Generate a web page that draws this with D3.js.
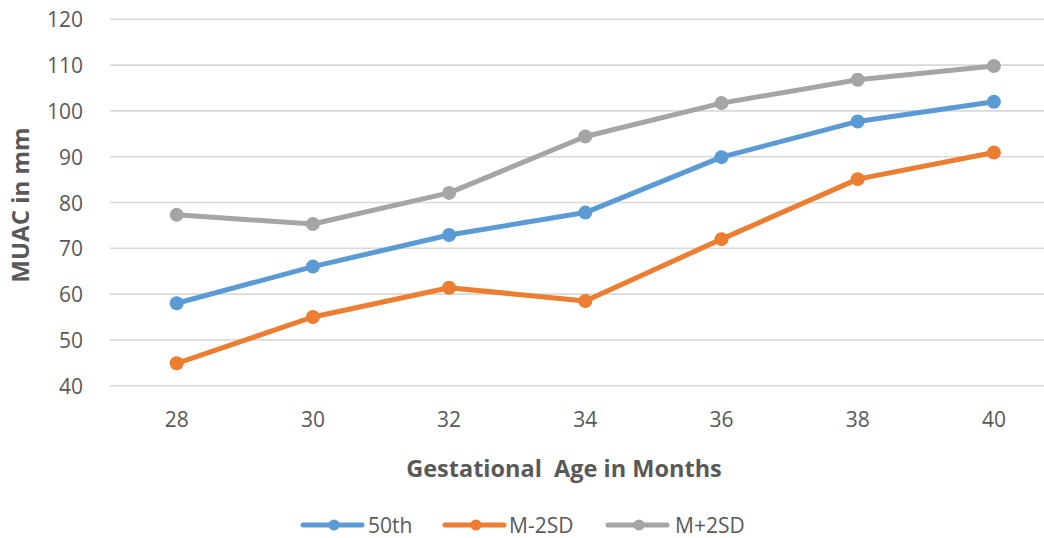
<!DOCTYPE html>
<html>
<head>
<meta charset="utf-8">
<script src="https://cdn.jsdelivr.net/npm/d3@7"></script>
<style>
  html, body { margin: 0; padding: 0; background: #ffffff; }
  svg { display: block; }
  text { font-family: "Open Sans", "Noto Sans", sans-serif; fill: #595959; }
</style>
</head>
<body>
<svg id="chart" width="1044" height="538"></svg>
<script>
// Gestational age categories (months)
const ages = ["28", "30", "32", "34", "36", "38", "40"];

// MUAC values in mm for each series
const p50    = [58.0, 66.0, 72.9, 77.8, 89.9, 97.7, 102.0];
const minus2 = [44.9, 55.0, 61.4, 58.5, 72.0, 85.1, 90.9];
const plus2  = [77.3, 75.3, 82.1, 94.4, 101.7, 106.8, 109.8];

const yTicks = [40, 50, 60, 70, 80, 90, 100, 110, 120];

const seriesNames  = ["50th", "M-2SD", "M+2SD"];
const seriesColors = ["#5B9BD5", "#ED7D31", "#A5A5A5"];
const seriesValues = [p50, minus2, plus2];

const svg = d3.select("#chart");
const W = 1044, H = 538;

const plotLeft = 110, plotRight = W;
const x = d3.scaleBand().domain(ages).range([108.6, 108.6 + 7 * 136.2]).padding(0);
const cx = d => x(d) + x.bandwidth() / 2;
const y = d3.scaleLinear().domain([40, 120]).range([385.7, 19.3]);

// horizontal gridlines
svg.append("g")
  .selectAll("line")
  .data(yTicks)
  .join("line")
  .attr("x1", plotLeft).attr("x2", plotRight)
  .attr("y1", d => y(d)).attr("y2", d => y(d))
  .attr("stroke", "#D9D9D9")
  .attr("stroke-width", 1.6);

// y axis labels
const yAxis = d3.axisLeft(y).tickValues(yTicks).tickSize(0).tickPadding(0);
const gy = svg.append("g").attr("transform", "translate(83,0)").call(yAxis);
gy.select(".domain").remove();
gy.selectAll("text")
  .attr("font-size", 21)
  .attr("font-family", "\"Open Sans\", sans-serif")
  .attr("fill", "#595959")
  .attr("dy", "0.36em");

// x axis labels
const xAxis = d3.axisBottom(x).tickSize(0).tickPadding(0);
const gx = svg.append("g").attr("transform", "translate(0,427)").call(xAxis);
gx.select(".domain").remove();
gx.selectAll("text")
  .attr("font-size", 21)
  .attr("font-family", "\"Open Sans\", sans-serif")
  .attr("fill", "#595959")
  .attr("y", 0)
  .attr("dy", 0);

// axis titles
svg.append("text")
  .attr("x", 564).attr("y", 477)
  .attr("text-anchor", "middle")
  .attr("font-size", 23.5)
  .attr("font-weight", "bold")
  .attr("xml:space", "preserve")
  .style("white-space", "pre")
  .text("Gestational  Age in Months");

svg.append("text")
  .attr("transform", "translate(29,205) rotate(-90)")
  .attr("text-anchor", "middle")
  .attr("font-size", 24)
  .attr("font-weight", "bold")
  .text("MUAC in mm");

// series lines and markers
const line = d3.line().x((d, i) => cx(ages[i])).y(d => y(d));

seriesValues.forEach((vals, s) => {
  const g = svg.append("g");
  g.append("path")
    .datum(vals)
    .attr("d", line)
    .attr("fill", "none")
    .attr("stroke", seriesColors[s])
    .attr("stroke-width", 5)
    .attr("stroke-linejoin", "round")
    .attr("stroke-linecap", "round");
  g.selectAll("circle")
    .data(vals)
    .join("circle")
    .attr("cx", (d, i) => cx(ages[i]))
    .attr("cy", d => y(d))
    .attr("r", 7)
    .attr("fill", seriesColors[s]);
});

// legend
const legendItems = [
  { x0: 303, tx: 368 },
  { x0: 445, tx: 509 },
  { x0: 608, tx: 675 }
];
const ly = 525;
const lg = svg.append("g");
seriesNames.forEach((name, s) => {
  const it = legendItems[s];
  lg.append("line")
    .attr("x1", it.x0).attr("x2", it.x0 + 59)
    .attr("y1", ly).attr("y2", ly)
    .attr("stroke", seriesColors[s])
    .attr("stroke-width", 5)
    .attr("stroke-linecap", "round");
  lg.append("circle")
    .attr("cx", it.x0 + 31).attr("cy", ly)
    .attr("r", 5.5)
    .attr("fill", seriesColors[s]);
  lg.append("text")
    .attr("x", it.tx).attr("y", ly)
    .attr("dy", "0.36em")
    .attr("font-size", 21)
    .text(name);
});
</script>
</body>
</html>
